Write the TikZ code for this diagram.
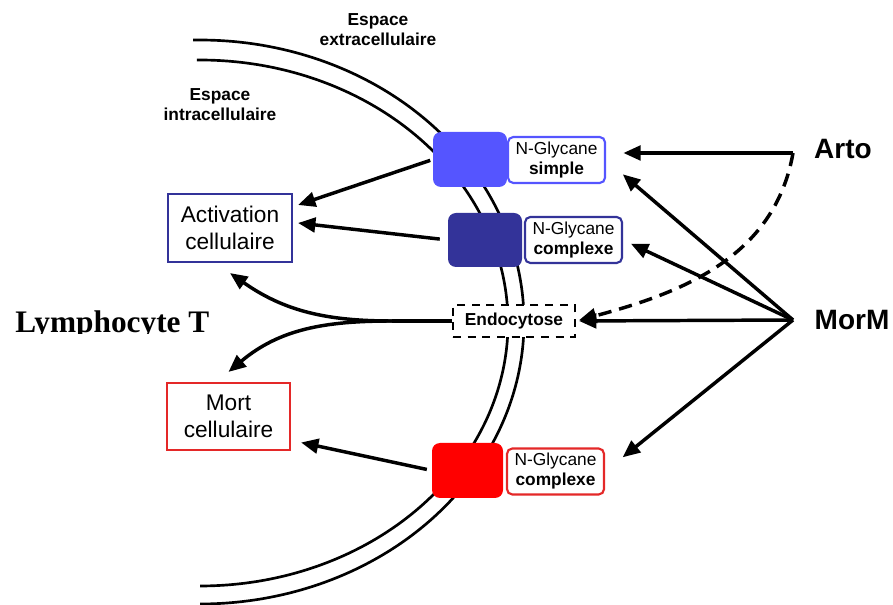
\documentclass[tikz,border=0pt]{standalone}
\usepackage{fontspec}
\setmainfont{Liberation Sans}
\newfontfamily\romanfont{Liberation Serif}
\usetikzlibrary{arrows.meta}
\definecolor{glyblue}{RGB}{85,85,255}
\definecolor{glydark}{RGB}{51,51,153}
\definecolor{glyred}{RGB}{255,0,0}
\definecolor{boxred}{RGB}{228,40,40}
\begin{document}
\begin{tikzpicture}[x=0.75pt,y=-0.75pt,
  membrane/.style={line width=2pt},
  receptor/.style={rectangle, rounded corners=6pt, inner sep=0pt},
  glylabel/.style={rectangle, rounded corners=4pt, draw, line width=1.6pt, fill=white,
    align=center, inner sep=0pt, minimum width=72.75pt, minimum height=34.5pt,
    font=\fontsize{13}{15}\selectfont},
  effect/.style={rectangle, draw, line width=1.6pt, fill=white, align=center, inner sep=0pt,
    font=\fontsize{17}{20}\selectfont},
  region/.style={align=center, font=\fontsize{13}{15}\selectfont\bfseries},
  agent/.style={font=\fontsize{21}{25}\selectfont\bfseries},
  link/.style={line width=2.6pt, -{Triangle[length=13pt,width=11pt]}},
  plainlink/.style={line width=2.6pt},
]
\path[use as bounding box] (0,0) rectangle (893,605);

% double membrane of the cell
\draw[membrane] plot[domain=91.2:-90, samples=150, smooth]
  ({200+324*cos(\x)},{322-282*sin(\x)});
\draw[membrane] plot[domain=90.6:-90, samples=150, smooth]
  ({200+308*cos(\x)},{323-263*sin(\x)});

% compartment labels
\node[region] (extra) at (378,30) {Espace\\extracellulaire};
\node[region] (intra) at (220,105) {Espace\\intracellulaire};

% receptors in the membrane
\node[receptor, fill=glyblue, minimum width=55.5pt, minimum height=41.25pt] (sq1) at (470,159.5) {};
\node[receptor, fill=glydark, minimum width=55.5pt, minimum height=40.5pt] (sq2) at (485,240) {};
\node[receptor, fill=glyred, minimum width=53.25pt, minimum height=41.25pt] (sq3) at (467.5,470.5) {};

% glycan labels
\node[glylabel, draw=glyblue] (nsimple) at (556.5,160) {N-Glycane\\\textbf{simple}};
\node[glylabel, draw=glydark] (ncx1) at (573.5,240) {N-Glycane\\\textbf{complexe}};
\node[glylabel, draw=boxred] (ncx2) at (555.5,471.5) {N-Glycane\\\textbf{complexe}};

% endocytosis
\node[draw, line width=1.6pt, dash pattern=on 6pt off 5pt, fill=white, inner sep=0pt,
  minimum width=91.5pt, minimum height=24pt, font=\fontsize{13}{15}\selectfont\bfseries]
  (endo) at (514,321) {Endocytose};

% cellular outcomes
\node[effect, draw=glydark, minimum width=93pt, minimum height=51pt] (act) at (230,228) {Activation\\cellulaire};
\node[effect, draw=boxred, minimum width=92.25pt, minimum height=50.25pt] (mort) at (228.5,416.5) {Mort\\cellulaire};

% cell type, cut at the baseline
\begin{scope}
  \clip (0,290) rectangle (300,334);
  \node[anchor=base west, inner sep=0pt, font=\romanfont\bfseries\fontsize{23.5}{28}\selectfont]
    (lympho) at (15,333) {Lymphocyte T};
\end{scope}

% lectins
\node[agent] (arto) at (843,149) {Arto};
\node[agent] (morm) at (852,320) {MorM};
\coordinate (artoJ) at (793,153);
\coordinate (mormJ) at (793,320);
\coordinate (split) at (392,321);

% Arto binding
\draw[link, shorten >=13pt] (artoJ) -- (artoJ -| nsimple.east);
\draw[link, dash pattern=on 10pt off 6pt, shorten >=2.25pt] (artoJ) to[out=-100,in=15] (endo.east);

% MorM binding
\draw[link, shorten >=16.5pt] (mormJ) -- (nsimple.east);
\draw[link, shorten >=6.5pt] (mormJ) -- (ncx1.east);
\draw[link, shorten >=2.25pt] (mormJ) -- (endo.east);
\draw[link, shorten >=17pt] (mormJ) -- (ncx2.east);

% signalling towards the outcomes
\draw[link, shorten <=2pt] (sq1.west) -- ([xshift=3.75pt,yshift=17.25pt]act.east);
\draw[link, shorten <=6pt] (sq2.west) -- ([xshift=3.75pt,yshift=3.75pt]act.east);
\draw[link, shorten <=3.75pt] (sq3.west) -- ([xshift=7.5pt,yshift=-19.5pt]mort.east);

% endocytosis branches
\draw[plainlink] (endo.west) -- (split);
\draw[link] (split) to[out=180,in=-35] ([yshift=-7.5pt]act.south);
\draw[link] (split) to[out=180,in=40] ([yshift=7.5pt]mort.north);
\end{tikzpicture}
\end{document}
